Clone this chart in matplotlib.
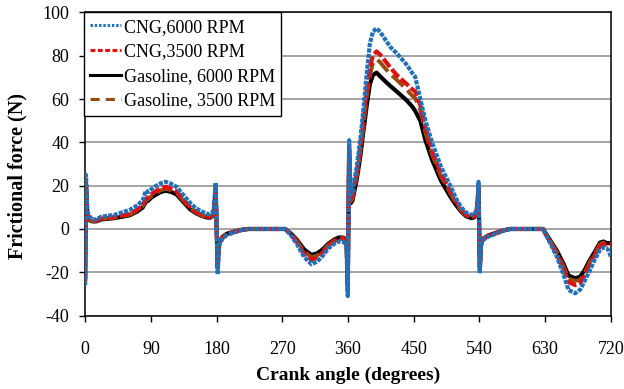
import matplotlib
matplotlib.use("Agg")
import matplotlib.pyplot as plt
from matplotlib.lines import Line2D

# ---- data ----
angle = [0, 1, 3, 6, 10, 15, 22, 40, 61, 72,
         79, 83, 86, 90, 95, 103, 110, 117, 125, 135,
         144, 152, 160, 167, 171, 174, 176, 178.7, 181.5, 183,
         184.5, 188, 194, 205, 215, 223, 274, 282, 290, 300,
         310, 318, 325, 333, 342, 348, 354, 358, 359.6, 361.5,
         363.5, 366, 372, 377, 381, 386, 390, 394, 399, 404,
         410, 418, 427, 440, 448, 452, 459, 466, 475, 487,
         500, 508, 515, 522, 529, 533, 535, 537, 538.7, 540.5,
         542, 545, 552, 564, 573, 582, 627, 636, 646, 655,
         662, 671, 678, 684, 690, 698, 705, 710, 714, 717, 720]

cng_6000 = [-26, 25, 8, 5.7, 4.5, 4.3, 5.7, 6.5, 8.8, 11,
            13.4, 17.7, 17, 18.2, 19.5, 21, 21.8, 21, 19.5, 15.5,
            11.9, 9.5, 8, 7, 6.8, 7.5, 8.8, 21.4, -21, -9,
            -6.6, -4.5, -2.8, -1.5, -0.5, 0, 0, -3, -7, -13,
            -16.3, -15, -12.5, -9, -6.6, -5.7, -5.9, -8, -31, 41,
            15.7, 17, 28.8, 42, 55, 73, 85.8, 91, 92.7, 91,
            88, 84, 81, 76, 72, 70.3, 60, 50, 40, 29,
            20, 14, 10, 7.5, 6.5, 6.8, 8, 11, 21.8, -20.5,
            -8, -5.1, -3.5, -2, -0.8, 0, 0, -6, -12.8, -21,
            -28.2, -29.7, -28, -24, -20, -14, -9.7, -8.5, -8.9, -10, -12.8]

cng_3500 = [-24, 23, 7, 4.5, 3.8, 3.9, 4.8, 5.5, 6.9, 9,
            11, 14, 14.5, 15.8, 17, 18.8, 19.5, 18.8, 17.5, 13.5,
            10, 7.8, 6.5, 5.7, 5.6, 6.3, 7.5, 19, -19, -8,
            -6, -4, -2.5, -1.3, -0.4, 0, 0, -2.6, -6, -11.5,
            -14.3, -13.2, -11, -7.8, -5.5, -4.5, -4.5, -7, -28, 38,
            13.5, 15, 26, 38, 50, 65, 75, 80, 82, 80.5,
            78, 74.5, 71, 67, 64.5, 63.5, 57, 47, 36, 26,
            17.5, 12.5, 9, 6.5, 5.4, 5.8, 7, 10, 19.5, -19,
            -7, -4.8, -3.2, -1.8, -0.7, 0, 0, -5.5, -11.5, -18.5,
            -24.5, -25.9, -25, -21.5, -17, -12, -8, -7, -7.2, -7, -7]

gas_6000 = [-22, 21, 6, 4, 3.5, 3.5, 4.4, 5, 6.3, 8.2,
            10, 12.5, 13, 14.3, 15.5, 17, 17.7, 17.2, 16, 12.3,
            9, 7.2, 6, 5.3, 5.2, 5.8, 7, 17.5, -17.5, -7.5,
            -5.5, -3.6, -2.2, -1.1, -0.3, 0, 0, -2.2, -5, -9.5,
            -12, -11.2, -9.5, -6.8, -4.7, -3.9, -4, -6, -25, 34,
            11.9, 13, 23, 34, 45, 58, 67, 71, 72.2, 70.5,
            68.5, 66, 63.4, 59.5, 56.5, 54.5, 50, 41, 32, 22.5,
            15, 11, 8, 5.8, 5, 5.4, 6.5, 9.5, 18, -17.5,
            -6.5, -4.5, -3, -1.6, -0.6, 0, 0, -4.8, -10, -16,
            -21.5, -22.8, -22, -19, -15, -10.5, -6.3, -5.8, -6.5, -6.5, -6.5]

gas_3500 = [-23, 22, 6.5, 4.2, 3.6, 3.7, 4.6, 5.2, 6.6, 8.6,
            10.5, 13.2, 13.7, 15, 16.2, 17.8, 18.5, 18, 16.8, 12.9,
            9.5, 7.5, 6.2, 5.5, 5.4, 6, 7.2, 18.2, -18, -7.7,
            -5.7, -3.8, -2.3, -1.2, -0.35, 0, 0, -2.4, -5.5, -10.5,
            -13, -12.2, -10.2, -7.3, -5.1, -4.2, -4.2, -6.5, -26.5, 36,
            12.7, 14, 24.5, 36, 47.5, 62, 71, 76.5, 78.4, 77,
            74.5, 71.5, 68.8, 64.5, 61.5, 60.5, 55, 44.5, 34.5, 24.5,
            16.5, 11.8, 8.5, 6.2, 5.2, 5.6, 6.8, 9.8, 18.8, -18.2,
            -6.8, -4.6, -3.1, -1.7, -0.65, 0, 0, -5.1, -10.7, -17.2,
            -23, -24, -23.5, -20.3, -16, -11.2, -7, -6.3, -6.8, -6.8, -6.8]

labels = ["CNG,6000 RPM", "CNG,3500 RPM", "Gasoline, 6000 RPM", "Gasoline, 3500 RPM"]
x_ticks = [0, 90, 180, 270, 360, 450, 540, 630, 720]
y_ticks = [-40, -20, 0, 20, 40, 60, 80, 100]

plt.rcParams['font.family'] = ['Liberation Serif', 'DejaVu Serif']
plt.rcParams['axes.unicode_minus'] = False

fig = plt.figure(figsize=(6.24, 3.89), dpi=100)
ax = fig.add_axes([0.1365, 0.1887, 0.8425, 0.7793])

blue = '#2170b8'
red = '#e01010'
black = '#000000'
brown = '#9a4a10'

ax.plot(angle, gas_6000, color=black, lw=3.0, ls='-', zorder=3, solid_joinstyle='round')
ax.plot(angle, gas_3500, color=brown, lw=2.8, ls=(0, (4, 1.5)), zorder=4)
ax.plot(angle, cng_3500, color=red, lw=3.0, ls=(0, (2.5, 0.7)), zorder=5)
ax.plot(angle, cng_6000, color=blue, lw=3.0, ls=(0, (1.0, 0.3)), zorder=6)

ax.set_xlim(0, 720)
ax.set_ylim(-40, 100)
ax.set_xticks(x_ticks)
ax.set_yticks(y_ticks)
ax.tick_params(axis='both', direction='out', length=4.5, width=1, labelsize=13, color='black')
ax.tick_params(axis='x', pad=14)
ax.tick_params(axis='y', pad=7)
ax.yaxis.grid(True, color='#8c8c8c', lw=1.1)
ax.set_axisbelow(True)
for s in ax.spines.values():
    s.set_color('black')
    s.set_linewidth(1.1)

ax.set_xlabel("Crank angle (degrees)", fontsize=14, fontweight='bold', labelpad=6)
ax.set_ylabel("Frictional force (N)", fontsize=14.5, fontweight='bold')
ax.yaxis.set_label_coords(-0.109, 0.46)

handles = [
    Line2D([], [], color=blue, lw=2.2, ls=(0, (0.8, 0.6))),
    Line2D([], [], color=red, lw=2.2, ls=(0, (1.6, 0.8))),
    Line2D([], [], color=black, lw=2.2, ls='-'),
    Line2D([], [], color=brown, lw=2.2, ls=(0, (3, 2))),
]
leg = ax.legend(handles=handles, labels=labels, loc='upper left', bbox_to_anchor=(-0.002, 1.0),
                fontsize=13, frameon=True, fancybox=False, framealpha=1, edgecolor='black',
                handlelength=1.7, handletextpad=0.15, borderpad=0.35, labelspacing=0.42,
                borderaxespad=0.0)
leg.get_frame().set_linewidth(1.0)

fig.savefig("out.png", dpi=100)
